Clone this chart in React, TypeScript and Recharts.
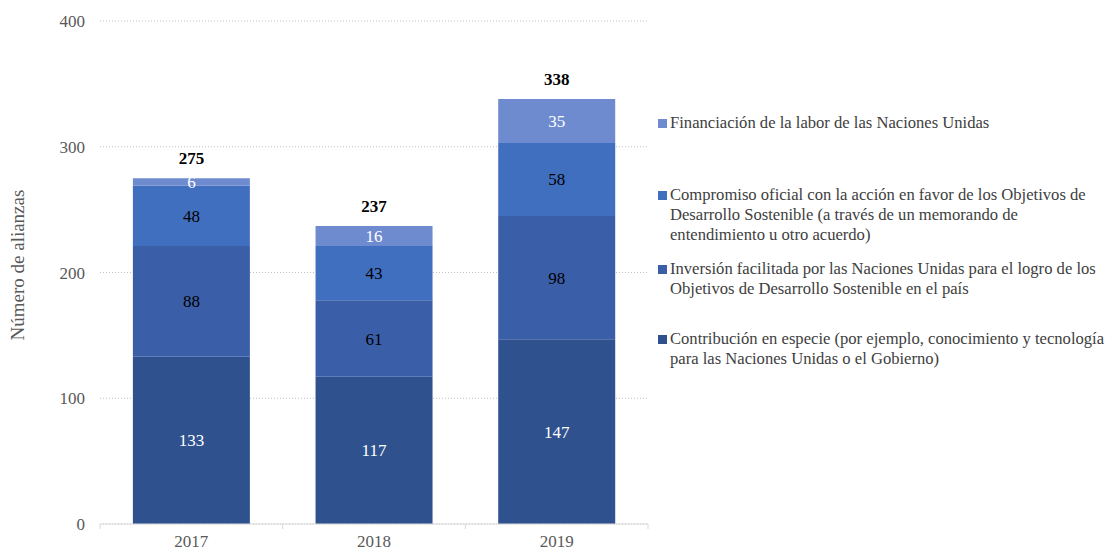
import { BarChart, Bar, XAxis, YAxis, CartesianGrid, Legend, LabelList } from "recharts";

const years = ["2017", "2018", "2019"];
const especie = [133, 117, 147];
const inversion = [88, 61, 98];
const compromiso = [48, 43, 58];
const financiacion = [6, 16, 35];
const yTicks = [0, 100, 200, 300, 400];

const data = years.map((year, i) => ({
  year,
  especie: especie[i],
  inversion: inversion[i],
  compromiso: compromiso[i],
  financiacion: financiacion[i],
  total: especie[i] + inversion[i] + compromiso[i] + financiacion[i],
}));

const FONT = "Liberation Serif, Times New Roman, serif";
const FS = 17;

// legend order (top to bottom) and item heights, to mimic the original spacing
const legendOrder = ["financiacion", "compromiso", "inversion", "especie"];
const itemHeights = [72, 74, 70, 60];

function LegendBox(props: any) {
  const items = legendOrder
    .map((k) => (props.payload || []).find((p: any) => p.dataKey === k))
    .filter(Boolean);
  return (
    <div style={{ fontFamily: FONT, fontSize: 16.6, color: "#404040", lineHeight: "20px", textAlign: "left" }}>
      {items.map((it: any, i: number) => (
        <div key={i} style={{ display: "flex", height: itemHeights[i] }}>
          <span
            style={{
              width: 9,
              height: 9,
              background: it.color,
              marginTop: 6,
              marginRight: 3,
              flex: "none",
            }}
          />
          <span>{it.value}</span>
        </div>
      ))}
    </div>
  );
}

function YearTick(props: any) {
  const { x, y, payload, index } = props;
  const half = payload.offset || 0;
  return (
    <g>
      <line x1={x - half} x2={x - half} y1={y} y2={y + 5} stroke="#d9d9d9" />
      {index === years.length - 1 && (
        <line x1={x + half} x2={x + half} y1={y} y2={y + 5} stroke="#d9d9d9" />
      )}
      <text x={x} y={y + 23} textAnchor="middle" fill="#595959" fontSize={FS} fontFamily={FONT}>
        {payload.value}
      </text>
    </g>
  );
}

export default function App() {
  return (
    <div style={{ position: "absolute", left: 0, top: 0, background: "#fff", fontFamily: FONT }}>
      <BarChart
        width={1112}
        height={551}
        data={data}
        margin={{ top: 21, right: 464, bottom: 0, left: 40 }}
        barCategoryGap="18%"
      >
        <CartesianGrid vertical={false} stroke="#bfbfbf" strokeDasharray="1 2" />
        <XAxis
          dataKey="year"
          height={27}
          interval={0}
          tickLine={false}
          tickSize={0}
          tickMargin={0}
          axisLine={{ stroke: "#d9d9d9" }}
          tick={<YearTick />}
        />
        <YAxis
          width={60}
          domain={[0, 400]}
          ticks={yTicks}
          tickLine={false}
          axisLine={false}
          tickMargin={9}
          tick={{ fill: "#595959", fontSize: FS, fontFamily: FONT }}
          label={{
            value: "Número de alianzas",
            angle: -90,
            position: "insideLeft",
            dx: -28,
            dy: 68,
            fill: "#595959",
            fontSize: 19,
            fontFamily: FONT,
          }}
        />
        <Legend
          layout="horizontal"
          verticalAlign="middle"
          align="center"
          content={<LegendBox />}
          wrapperStyle={{ left: 658, top: 113, width: 454 }}
        />
        <Bar
          dataKey="especie"
          stackId="a"
          fill="#2f528f"
          name="Contribución en especie (por ejemplo, conocimiento y tecnología para las Naciones Unidas o el Gobierno)"
          isAnimationActive={false}
        >
          <LabelList dataKey="especie" position="center" fill="#ffffff" fontSize={FS} fontFamily={FONT} />
        </Bar>
        <Bar
          dataKey="inversion"
          stackId="a"
          fill="#3a5fa8"
          name="Inversión facilitada por las Naciones Unidas para el logro de los Objetivos de Desarrollo Sostenible en el país"
          isAnimationActive={false}
        >
          <LabelList dataKey="inversion" position="center" fill="#000000" fontSize={FS} fontFamily={FONT} />
        </Bar>
        <Bar
          dataKey="compromiso"
          stackId="a"
          fill="#416fc0"
          name="Compromiso oficial con la acción en favor de los Objetivos de Desarrollo Sostenible (a través de un memorando de entendimiento u otro acuerdo)"
          isAnimationActive={false}
        >
          <LabelList dataKey="compromiso" position="center" fill="#000000" fontSize={FS} fontFamily={FONT} />
        </Bar>
        <Bar
          dataKey="financiacion"
          stackId="a"
          fill="#6f8bcf"
          name="Financiación de la labor de las Naciones Unidas"
          isAnimationActive={false}
        >
          <LabelList dataKey="financiacion" position="center" fill="#ffffff" fontSize={FS} fontFamily={FONT} />
          <LabelList
            dataKey="total"
            position="top"
            offset={14}
            fill="#000000"
            fontSize={FS}
            fontWeight="bold"
            fontFamily={FONT}
          />
        </Bar>
      </BarChart>
    </div>
  );
}
